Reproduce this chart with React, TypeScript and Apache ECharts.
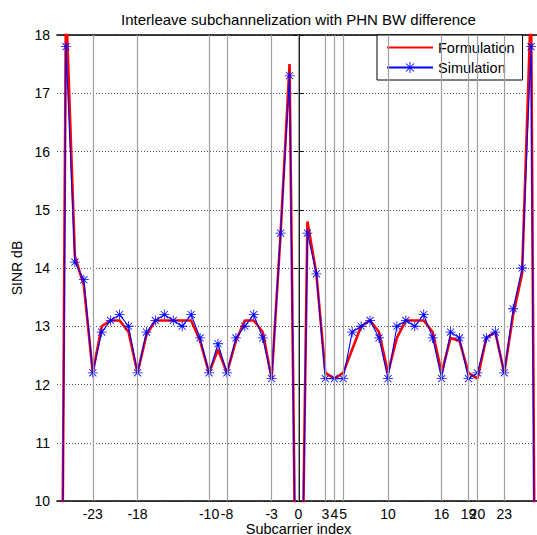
import React, { useEffect, useRef } from "react";
import * as echarts from "echarts";

const subcarriers = [
  -27, -26, -25, -24, -23, -22, -21, -20, -19, -18, -17, -16, -15, -14, -13, -12, -11, -10,
  -9, -8, -7, -6, -5, -4, -3, -2, -1, 0, 1, 2, 3, 4, 5, 6, 7, 8, 9, 10, 11, 12, 13, 14, 15,
  16, 17, 18, 19, 20, 21, 22, 23, 24, 25, 26, 27,
];

const formulation = [
  -6, 18.6, 14.2, 13.7, 12.2, 13.0, 13.1, 13.1, 12.9, 12.2, 12.85, 13.1, 13.1, 13.1, 13.1, 13.1,
  12.75, 12.2, 12.6, 12.2, 12.75, 13.1, 13.1, 12.9, 12.1, 14.6, 17.5, 4.0, 14.8, 13.9, 12.2,
  12.1, 12.2, 12.6, 13.0, 13.1, 12.9, 12.2, 12.8, 13.1, 13.1, 13.1, 12.9, 12.2, 12.8, 12.75,
  12.2, 12.1, 12.8, 12.9, 12.2, 13.2, 13.9, 18.6, -6,
];

const simulation = [
  -6, 17.8, 14.1, 13.8, 12.2, 12.9, 13.1, 13.2, 13.0, 12.2, 12.9, 13.1, 13.2, 13.1, 13.0, 13.2,
  12.8, 12.2, 12.7, 12.2, 12.8, 13.0, 13.2, 12.8, 12.1, 14.6, 17.3, 4.0, 14.6, 13.9, 12.1,
  12.1, 12.1, 12.9, 13.0, 13.1, 12.8, 12.1, 13.0, 13.1, 13.0, 13.2, 12.8, 12.1, 12.9, 12.8,
  12.1, 12.2, 12.8, 12.9, 12.2, 13.3, 14.0, 17.8, -6,
];

const xTicks = [-23, -18, -10, -8, -3, 0, 3, 4, 5, 10, 16, 19, 20, 23];

const FONT = "'Liberation Sans', Arial, Helvetica, sans-serif";

const STAR =
  "path://M9.2,0 L10.8,0 L10.8,20 L9.2,20 Z M0,9.2 L20,9.2 L20,10.8 L0,10.8 Z " +
  "M3.47,2.33 L17.67,16.53 L16.53,17.67 L2.33,3.47 Z M17.67,3.47 L3.47,17.67 L2.33,16.53 L16.53,2.33 Z";

export default function App() {
  const ref = useRef<HTMLDivElement>(null);

  useEffect(() => {
    if (!ref.current) return;
    const chart = echarts.init(ref.current, undefined, { renderer: "svg" });
    const axisLine = { show: true, lineStyle: { color: "#000", width: 1.5 } };
    chart.setOption({
      animation: false,
      backgroundColor: "#fff",
      textStyle: { fontFamily: FONT },
      graphic: [
        {
          type: "text",
          x: 298.5,
          y: 19,
          style: {
            text: "Interleave subchannelization with PHN BW difference",
            font: `15px ${FONT}`,
            fill: "#000",
            align: "center",
            verticalAlign: "middle",
            textAlign: "center",
            textVerticalAlign: "middle",
          },
        },
      ],
      grid: {
        left: 57,
        right: -3,
        top: 35,
        bottom: 34,
        containLabel: false,
        outerBoundsMode: "none",
      },
      legend: {
        orient: "vertical",
        left: 377,
        top: 35,
        data: [
          { name: "Formulation", itemStyle: { opacity: 0, color: "transparent" } },
          { name: "Simulation" },
        ],
        backgroundColor: "#fff",
        borderColor: "#000",
        borderWidth: 1,
        padding: [5, 8, 5, 9],
        itemWidth: 46,
        itemHeight: 14,
        itemGap: 5,
        textStyle: { fontSize: 14.5, color: "#000", fontFamily: FONT },
      },
      xAxis: [
        {
          type: "value",
          min: -27,
          max: 27,
          position: "bottom",
          name: "Subcarrier index",
          nameLocation: "middle",
          nameGap: 20,
          nameMoveOverlap: false,
          nameTextStyle: { fontSize: 14.5, color: "#000" },
          axisLine,
          axisTick: { show: true, inside: true, length: 4, customValues: xTicks, lineStyle: { color: "#000" } },
          axisLabel: { show: true, customValues: xTicks, fontSize: 14, color: "#000", margin: 6, hideOverlap: false },
          splitLine: { show: false },
        },
        {
          type: "value",
          min: -27,
          max: 27,
          position: "top",
          axisLine,
          axisTick: { show: true, inside: true, length: 4, customValues: xTicks, lineStyle: { color: "#000" } },
          axisLabel: { show: false },
          splitLine: { show: false },
        },
      ],
      yAxis: [
        {
          type: "value",
          min: 10,
          max: 18,
          interval: 1,
          position: "left",
          name: "SINR dB",
          nameLocation: "middle",
          nameGap: 33,
          nameMoveOverlap: false,
          nameTextStyle: { fontSize: 14, color: "#000" },
          axisLine,
          axisTick: { show: true, inside: true, length: 5, lineStyle: { color: "#000" } },
          axisLabel: { fontSize: 14, color: "#000", margin: 7 },
          splitLine: { show: true, lineStyle: { color: "#555", type: [1, 2], width: 1 } },
        },
        {
          type: "value",
          min: 10,
          max: 18,
          interval: 1,
          position: "right",
          axisLine,
          axisTick: { show: true, inside: true, length: 5, lineStyle: { color: "#000" } },
          axisLabel: { show: false },
          splitLine: { show: false },
        },
      ],
      series: [
        {
          name: "grid",
          type: "line",
          data: [],
          z: 1,
          silent: true,
          markLine: {
            silent: true,
            symbol: ["none", "none"],
            label: { show: false },
            lineStyle: { color: "#a0a0a0", type: "solid", width: 1.2 },
            data: xTicks.map((v) => ({ xAxis: v })),
          },
        },
        {
          name: "Formulation",
          type: "line",
          z: 3,
          color: "#ff0000",
          symbol: "none",
          lineStyle: { color: "#ff0000", width: 2.6 },
          data: subcarriers.map((x, i) => [x, formulation[i]]),
        },
        {
          name: "Simulation",
          type: "line",
          z: 4,
          color: "#0000ff",
          symbol: STAR,
          symbolSize: 10,
          showSymbol: true,
          showAllSymbol: true,
          itemStyle: { color: "#0000ff" },
          lineStyle: { color: "#0000ff", width: 1.1 },
          data: subcarriers.map((x, i) => [x, simulation[i]]),
        },
      ],
    });
    return () => chart.dispose();
  }, []);

  return (
    <div
      ref={ref}
      style={{ position: "fixed", left: 0, top: 0, width: 537, height: 535, overflow: "hidden" }}
    />
  );
}
